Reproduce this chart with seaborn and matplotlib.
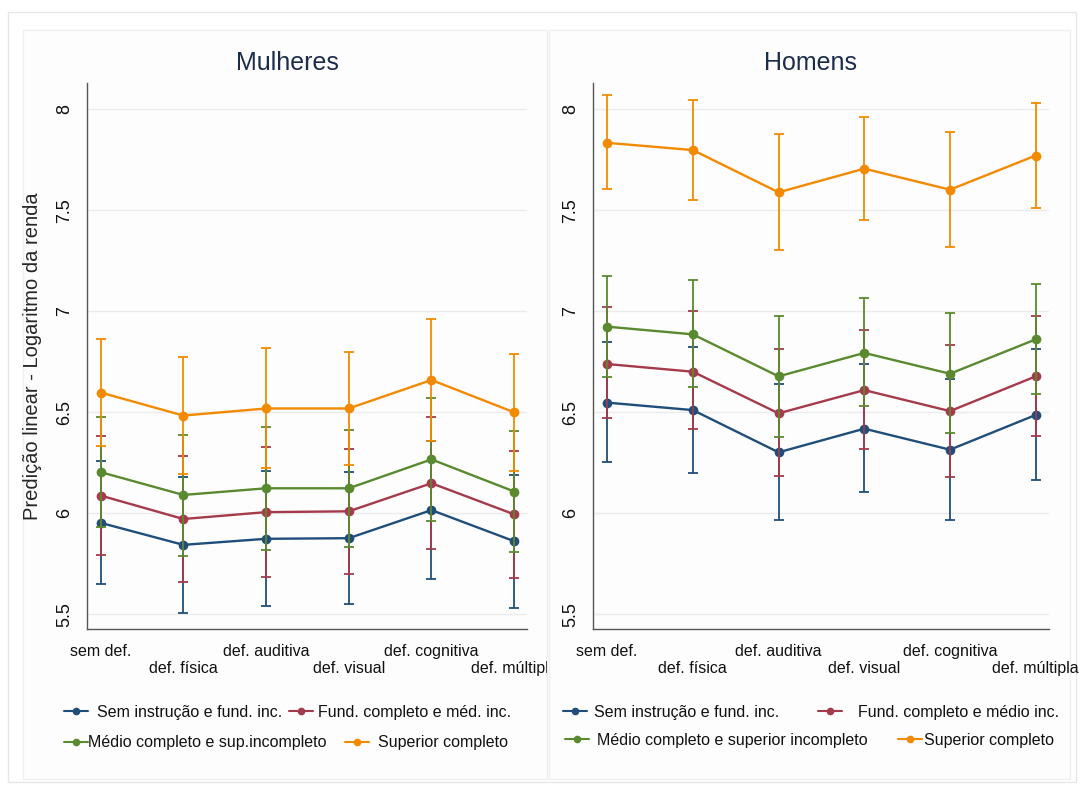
"""
plot.py - Predição linear do logaritmo da renda por tipo de deficiência,
escolaridade e sexo (Mulheres / Homens).
"""

import numpy as np
import pandas as pd
import seaborn as sns
import matplotlib.pyplot as plt
from matplotlib.lines import Line2D
from matplotlib.patches import Rectangle
from matplotlib.transforms import Bbox, TransformedBbox

# categorias do eixo x
categorias = ['sem def.', 'def. física', 'def. auditiva',
              'def. visual', 'def. cognitiva', 'def. múltipla']

grupos_mulheres = ['Sem instrução e fund. inc.', 'Fund. completo e méd. inc.',
                   'Médio completo e sup.incompleto', 'Superior completo']
grupos_homens = ['Sem instrução e fund. inc.', 'Fund. completo e médio inc.',
                 'Médio completo e superior incompleto', 'Superior completo']

cores = ['#1f4e7a', '#a53a4a', '#5a8a2f', '#f28a00']

# Mulheres: médias e intervalos de confiança (lo, hi)
m_sem = [5.953, 5.844, 5.874, 5.877, 6.016, 5.862]
m_sem_lo = [5.648, 5.509, 5.540, 5.550, 5.675, 5.532]
m_sem_hi = [6.258, 6.179, 6.208, 6.204, 6.357, 6.190]
m_fund = [6.088, 5.972, 6.006, 6.010, 6.149, 5.995]
m_fund_lo = [5.794, 5.660, 5.685, 5.701, 5.822, 5.680]
m_fund_hi = [6.382, 6.282, 6.326, 6.320, 6.476, 6.310]
m_med = [6.204, 6.091, 6.124, 6.124, 6.267, 6.108]
m_med_lo = [5.932, 5.790, 5.820, 5.834, 5.962, 5.810]
m_med_hi = [6.476, 6.390, 6.426, 6.414, 6.572, 6.406]
m_sup = [6.598, 6.484, 6.519, 6.519, 6.660, 6.500]
m_sup_lo = [6.335, 6.194, 6.222, 6.239, 6.360, 6.209]
m_sup_hi = [6.862, 6.774, 6.816, 6.799, 6.962, 6.791]

# Homens
h_sem = [6.548, 6.511, 6.302, 6.419, 6.315, 6.487]
h_sem_lo = [6.252, 6.200, 5.967, 6.104, 5.967, 6.166]
h_sem_hi = [6.850, 6.824, 6.642, 6.741, 6.666, 6.813]
h_fund = [6.739, 6.701, 6.495, 6.610, 6.506, 6.678]
h_fund_lo = [6.470, 6.416, 6.183, 6.318, 6.179, 6.383]
h_fund_hi = [7.020, 7.000, 6.812, 6.907, 6.833, 6.978]
h_med = [6.924, 6.886, 6.678, 6.794, 6.691, 6.861]
h_med_lo = [6.674, 6.627, 6.378, 6.531, 6.396, 6.591]
h_med_hi = [7.176, 7.153, 6.977, 7.066, 6.990, 7.135]
h_sup = [7.834, 7.798, 7.589, 7.706, 7.602, 7.771]
h_sup_lo = [7.604, 7.549, 7.303, 7.454, 7.316, 7.511]
h_sup_hi = [8.069, 8.048, 7.880, 7.961, 7.888, 8.032]

y_ticks = [5.5, 6, 6.5, 7, 7.5, 8]
y_ticklabels = ['5.5', '6', '6.5', '7', '7.5', '8']


def build_frame(grupos, medias, los, his):
    rows = []
    for g, m, lo, hi in zip(grupos, medias, los, his):
        for i, cat in enumerate(categorias):
            rows.append({'pos': i, 'categoria': cat, 'grupo': g,
                         'media': m[i], 'lo': lo[i], 'hi': hi[i]})
    return pd.DataFrame(rows)


def draw_panel(ax, df, grupos, title_x, title):
    for g, c in zip(grupos, cores):
        d = df[df['grupo'] == g]
        ax.errorbar(d['pos'], d['media'],
                    yerr=[d['media'] - d['lo'], d['hi'] - d['media']],
                    fmt='none', ecolor=c, elinewidth=1.3,
                    capsize=3.5, capthick=1.3)
        sns.lineplot(data=d, x='pos', y='media', color=c, marker='o',
                     markersize=7, markeredgewidth=0, linewidth=1.7,
                     legend=False, ax=ax)

    ax.set_xlim(-0.165, 5.155)
    ax.set_ylim(5.43, 8.13)
    ax.set_yticks(y_ticks)
    ax.set_yticklabels(y_ticklabels, rotation=90, va='center', fontsize=13)
    ax.set_xticks(range(len(categorias)))
    ax.set_xticklabels([c if i % 2 == 0 else '\n' + c
                        for i, c in enumerate(categorias)], fontsize=11.5)
    ax.set_xlabel('')
    ax.set_ylabel('')
    ax.tick_params(axis='y', length=6, width=1, color='#555555', pad=4)
    ax.tick_params(axis='x', length=6, width=1, color='#555555', pad=5)
    ax.yaxis.grid(True, color='#ebebeb', linewidth=1)
    ax.xaxis.grid(False)
    ax.set_axisbelow(True)
    for s in ['top', 'right']:
        ax.spines[s].set_visible(False)
    for s in ['left', 'bottom']:
        ax.spines[s].set_color('#555555')
        ax.spines[s].set_linewidth(1)
    ax.figure.text(title_x, 0.92, title, ha='center', va='center',
                   fontsize=18, color='#1c2d4c')


def add_legend(fig, grupos, positions):
    W, H = 1081, 790
    for g, c, (hx, hy, tx) in zip(grupos, cores, positions):
        h = Line2D([], [], color=c, marker='o', markersize=5.5,
                   markeredgewidth=0, linewidth=1.5)
        fig.legend(handles=[h], labels=[g], loc='center left',
                   bbox_to_anchor=(hx / W, 1 - hy / H), frameon=False,
                   fontsize=11.5, handlelength=24 / 16,
                   handletextpad=(tx - hx - 24) / 16,
                   borderpad=0, borderaxespad=0, numpoints=1)


def main():
    sns.set_theme(style='white')
    plt.rcParams['font.family'] = ['Liberation Sans', 'DejaVu Sans']
    plt.rcParams['text.color'] = '#111111'
    plt.rcParams['xtick.color'] = '#111111'
    plt.rcParams['ytick.color'] = '#111111'

    W, H = 1081, 790
    fig = plt.figure(figsize=(W / 100, H / 100), dpi=100)

    # molduras de fundo (estilo Stata), atrás dos eixos
    fig.patches.append(Rectangle((8 / W, 1 - 782 / H), 1068 / W, 770 / H,
                                 transform=fig.transFigure, fill=False,
                                 edgecolor='#e6e6e6', linewidth=1, zorder=-2))
    for x0, x1 in [(23, 547), (549, 1070)]:
        fig.patches.append(Rectangle((x0 / W, 1 - 779 / H), (x1 - x0) / W,
                                     749 / H, transform=fig.transFigure,
                                     facecolor='#fdfdfd', edgecolor='#efefef',
                                     linewidth=1, zorder=-1))

    bottom, top = 1 - 628.5 / H, 1 - 83 / H
    ax_m = fig.add_axes([87 / W, bottom, (527 - 87) / W, top - bottom])
    ax_h = fig.add_axes([593 / W, bottom, (1049 - 593) / W, top - bottom])
    for ax in (ax_m, ax_h):
        ax.set_facecolor('none')

    df_m = build_frame(grupos_mulheres,
                       [m_sem, m_fund, m_med, m_sup],
                       [m_sem_lo, m_fund_lo, m_med_lo, m_sup_lo],
                       [m_sem_hi, m_fund_hi, m_med_hi, m_sup_hi])
    df_h = build_frame(grupos_homens,
                       [h_sem, h_fund, h_med, h_sup],
                       [h_sem_lo, h_fund_lo, h_med_lo, h_sup_lo],
                       [h_sem_hi, h_fund_hi, h_med_hi, h_sup_hi])

    draw_panel(ax_m, df_m, grupos_mulheres, 287 / W, 'Mulheres')
    draw_panel(ax_h, df_h, grupos_homens, 810 / W, 'Homens')

    ax_m.set_ylabel('Predição linear - Logaritmo da renda', fontsize=14.5,
                    labelpad=10)

    # o último rótulo do painel esquerdo é cortado na borda do painel
    clip = TransformedBbox(Bbox([[0, 0], [547 / W, 1]]), fig.transFigure)
    last = ax_m.get_xticklabels()[-1]
    last.set_clip_on(True)
    last.set_clip_box(clip)

    add_legend(fig, grupos_mulheres,
               [(64, 712, 97), (289, 712, 318), (64, 743, 88), (345, 743, 378)])
    add_legend(fig, grupos_homens,
               [(563, 712, 594), (818, 712, 858), (565, 740, 597), (898, 740, 924)])

    fig.savefig('out.png', dpi=100)


if __name__ == "__main__":
    main()
